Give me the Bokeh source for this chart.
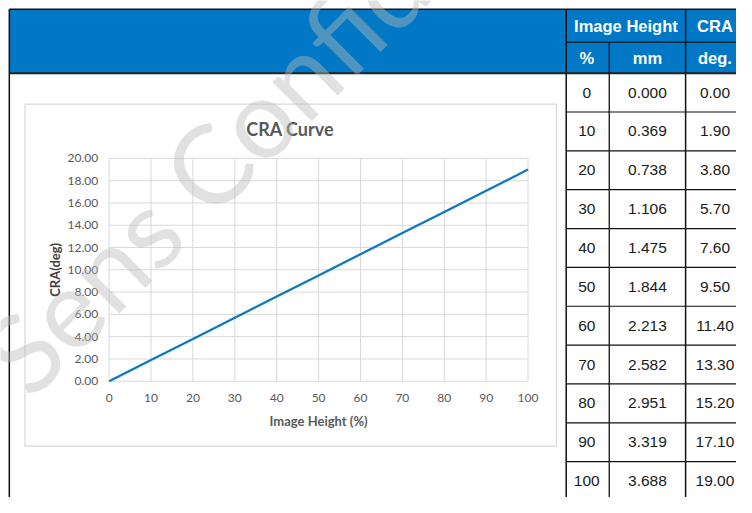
import math
from bokeh.plotting import figure
from bokeh.models import Range1d
from bokeh.core.properties import value
from bokeh.embed import file_html
from bokeh.resources import INLINE

# ---- data ----
pct = [0, 10, 20, 30, 40, 50, 60, 70, 80, 90, 100]
mm = [0.000, 0.369, 0.738, 1.106, 1.475, 1.844, 2.213, 2.582, 2.951, 3.319, 3.688]
cra = [0.00, 1.90, 3.80, 5.70, 7.60, 9.50, 11.40, 13.30, 15.20, 17.10, 19.00]
x_ticks = [0, 10, 20, 30, 40, 50, 60, 70, 80, 90, 100]
y_ticks = [0, 2, 4, 6, 8, 10, 12, 14, 16, 18, 20]
title = "CRA Curve"
x_title = "Image Height (%)"
y_title = "CRA(deg)"
hdr1 = ["Image Height", "CRA"]
hdr2 = ["%", "mm", "deg."]
watermark = "Sens Confidential"

# ---- layout (reference page pixels, squeezed into the figure) ----
W, H = 736, 497
RW, RH = 752, 513
BLUE = "#0078C6"
GRID = "#d9d9d9"
TXT = "#595959"
LINE = "#0B78C4"
TFONT = value("Liberation Sans")
CFONT = value("Lato")

# chart plot area in reference px
PX0, PX1 = 111, 539
PY0, PY1 = 393, 163
kx = (PX1 - PX0) / 100.0
ky = (PY0 - PY1) / 20.0

p = figure(width=W, height=H, output_backend="svg", toolbar_location=None,
           x_range=Range1d(0, RW), y_range=Range1d(RH, 0),
           min_border=0, outline_line_color=None)
p.axis.visible = False
p.grid.visible = False
p.background_fill_color = "white"
p.border_fill_color = "white"

p.extra_x_ranges = {"pct": Range1d((0 - PX0) / kx, (RW - PX0) / kx)}
p.extra_y_ranges = {"deg": Range1d((PY0 - RH) / ky, PY0 / ky)}

# ---- table / page structure ----
col_edges = [578, 622, 700, 760]
col_centers = [599, 661, 730]
row_top = 75
row_h = 40.1
right_end = 770
bottom_end = 530

p.quad(left=[9], right=[right_end], top=[9], bottom=[75], fill_color=BLUE, line_color=None)

# borders
p.segment(x0=[9, 9, 578, 700], y0=[9, 9, 9, 9], x1=[right_end, 9, 578, 700],
          y1=[9, bottom_end, bottom_end, bottom_end], line_color="#111111", line_width=1.5)
p.segment(x0=[9], y0=[75], x1=[right_end], y1=[75], line_color="#222222", line_width=2)
p.segment(x0=[622, 578], y0=[43, 43], x1=[622, right_end], y1=[bottom_end, 43],
          line_color="#111111", line_width=1.3)
rows_y = [row_top + row_h * (i + 1) for i in range(len(pct) - 1)]
p.segment(x0=[578] * len(rows_y), y0=rows_y, x1=[right_end] * len(rows_y), y1=rows_y,
          line_color="#111111", line_width=1.2)

# header texts
p.text(x=[(col_edges[0] + col_edges[2]) / 2, col_centers[2]], y=[26, 26],
       text=hdr1, text_color="white", text_font=TFONT, text_font_size="16.5px",
       text_font_style="bold", text_align="center", text_baseline="middle")
p.text(x=col_centers, y=[59, 59, 59],
       text=hdr2, text_color="white", text_font=TFONT, text_font_size="16.5px",
       text_font_style="bold", text_align="center", text_baseline="middle")

# data cells
cy = [row_top + row_h * (i + 0.5) for i in range(len(pct))]
cols_txt = [[str(v) for v in pct], ["%.3f" % v for v in mm], ["%.2f" % v for v in cra]]
for ci, texts in enumerate(cols_txt):
    p.text(x=[col_centers[ci]] * len(texts), y=cy, text=texts, text_color="#1a1a1a",
           text_font=TFONT, text_font_size="15.5px", text_align="center", text_baseline="middle")

# ---- chart ----
p.quad(left=[25], right=[568], top=[107], bottom=[460], fill_color="white",
       line_color=GRID, line_width=1.2)

p.segment(x0=x_ticks, y0=[y_ticks[0]] * len(x_ticks), x1=x_ticks, y1=[y_ticks[-1]] * len(x_ticks),
          x_range_name="pct", y_range_name="deg", line_color=GRID, line_width=1)
p.segment(x0=[x_ticks[0]] * len(y_ticks), y0=y_ticks, x1=[x_ticks[-1]] * len(y_ticks), y1=y_ticks,
          x_range_name="pct", y_range_name="deg", line_color=GRID, line_width=1)

p.text(x=[x_ticks[0]] * len(y_ticks), y=y_ticks, text=["%.2f" % v for v in y_ticks],
       x_range_name="pct", y_range_name="deg", x_offset=-11,
       text_color=TXT, text_font=CFONT, text_font_size="12px",
       text_align="right", text_baseline="middle")
p.text(x=x_ticks, y=[y_ticks[0]] * len(x_ticks), text=[str(v) for v in x_ticks],
       x_range_name="pct", y_range_name="deg", y_offset=17,
       text_color=TXT, text_font=CFONT, text_font_size="12px",
       text_align="center", text_baseline="middle")

p.line(x=pct, y=cra, x_range_name="pct", y_range_name="deg", line_color=LINE, line_width=2.25)

p.text(x=[296], y=[133], text=[title], text_color=TXT, text_font=CFONT, text_font_size="18px",
       text_font_style="bold", text_align="center", text_baseline="middle")
p.text(x=[325], y=[434], text=[x_title], text_color=TXT, text_font=CFONT, text_font_size="13px",
       text_font_style="bold", text_align="center", text_baseline="middle")
p.text(x=[56], y=[278], text=[y_title], angle=math.pi / 2, text_color="#404040", text_font=CFONT,
       text_font_size="13px", text_font_style="bold", text_align="center", text_baseline="middle")

# ---- watermark ----
p.text(x=[0], y=[383], text=[watermark], angle=math.pi / 4, text_color="#bababa", text_alpha=0.43,
       text_font=CFONT, text_font_size="110px", text_align="left", text_baseline="alphabetic")

open("out.html", "w").write(file_html(p, INLINE))
